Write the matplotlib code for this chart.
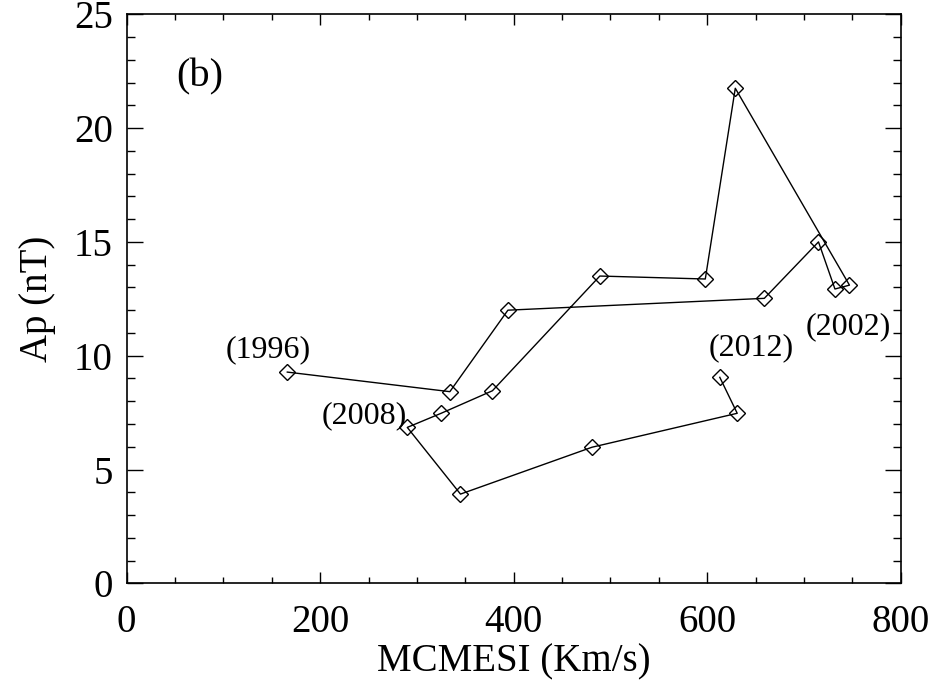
import matplotlib
matplotlib.use('Agg')
import matplotlib.pyplot as plt
from matplotlib.ticker import MultipleLocator

# yearly values, 1996 -> 2012
years = list(range(1996, 2013))
mcmesi = [166, 334, 394, 659, 715, 732, 747, 629, 598, 489, 378, 325, 290, 345, 481, 631, 613]
ap = [9.28, 8.42, 12.0, 12.52, 15.0, 12.93, 13.1, 21.75, 13.37, 13.5, 8.46, 7.47, 6.85, 3.92, 5.98, 7.47, 9.05]

# year labels: (text, x, y)
year_labels = [('(1996)', 146, 10.25), ('(2008)', 246, 7.35),
               ('(2012)', 645, 10.34), ('(2002)', 746, 11.27)]

plt.rcParams['font.family'] = ['Liberation Serif', 'DejaVu Serif']

fig = plt.figure(figsize=(9.37, 6.94), dpi=100)
ax = fig.add_axes([0.1352, 0.1595, 0.8261, 0.8199])

ax.plot(mcmesi, ap, color='black', lw=1.0, marker='D', ms=8.6,
        mfc='none', mec='black', mew=1.0)

for txt, x, y in year_labels:
    ax.text(x, y, txt, fontsize=23, ha='center', va='center')
ax.text(76, 22.25, '(b)', fontsize=29, ha='center', va='center')

ax.set_xlim(0, 800)
ax.set_ylim(0, 25)
ax.xaxis.set_major_locator(MultipleLocator(200))
ax.xaxis.set_minor_locator(MultipleLocator(50))
ax.yaxis.set_major_locator(MultipleLocator(5))
ax.yaxis.set_minor_locator(MultipleLocator(1))

ax.tick_params(axis='x', which='major', direction='in', top=True, length=8, width=1, labelsize=28, pad=15)
ax.tick_params(axis='x', which='minor', direction='in', top=True, length=4, width=1)
ax.tick_params(axis='y', which='major', direction='in', right=True, length=11.5, width=1, labelsize=28, pad=10)
ax.tick_params(axis='y', which='minor', direction='in', right=True, length=5.5, width=1)
for s in ax.spines.values():
    s.set_linewidth(1.2)

ax.set_xlabel('MCMESI (Km/s)', fontsize=28, labelpad=2)
ax.set_ylabel('Ap (nT)', fontsize=28, labelpad=13)

fig.savefig('out.png', dpi=100)
